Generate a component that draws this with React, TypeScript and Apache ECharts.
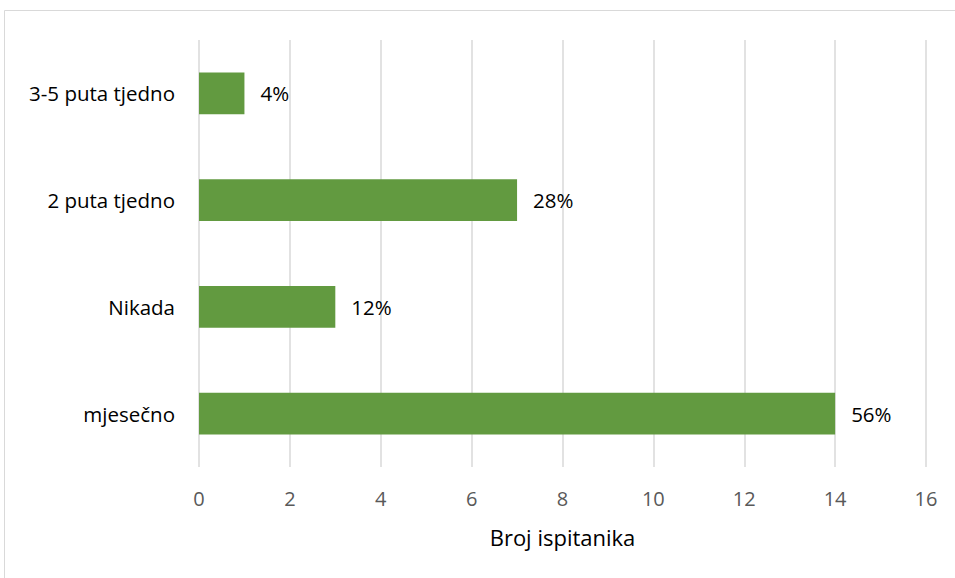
import React, { useEffect, useRef } from "react";
import * as echarts from "echarts";

const categories = ["mjesečno", "Nikada", "2 puta tjedno", "3-5 puta tjedno"];
const counts = [14, 3, 7, 1];
const percentLabels = ["56%", "12%", "28%", "4%"];
const xTicksMin = 0;
const xTicksMax = 16;
const xTickStep = 2;
const xAxisTitle = "Broj ispitanika";

const FONT = "'Open Sans', sans-serif";

export default function App() {
  const ref = useRef<HTMLDivElement>(null);
  useEffect(() => {
    if (!ref.current) return;
    const chart = echarts.init(ref.current, undefined, { renderer: "svg" });
    chart.setOption({
      animation: false,
      backgroundColor: "#ffffff",
      textStyle: { fontFamily: FONT },
      graphic: [
        {
          type: "rect",
          shape: { x: 4.5, y: 10.5, width: 1200, height: 1000 },
          style: { fill: "none", stroke: "#d9d9d9", lineWidth: 1 },
          silent: true,
          z: -1,
        },
      ],
      grid: { left: 199, right: 29, top: 40, bottom: 111, containLabel: false },
      xAxis: {
        type: "value",
        min: xTicksMin,
        max: xTicksMax,
        interval: xTickStep,
        name: xAxisTitle,
        nameLocation: "middle",
        nameGap: 59,
        nameTextStyle: { fontFamily: FONT, fontSize: 22, color: "#000000" },
        axisLine: { show: false },
        axisTick: { show: false },
        axisLabel: { fontFamily: FONT, fontSize: 20, color: "#595959", margin: 21 },
        splitLine: { show: true, lineStyle: { color: "#d9d9d9", width: 1.5 } },
      },
      yAxis: {
        type: "category",
        data: categories,
        axisLine: { show: false },
        axisTick: { show: false },
        axisLabel: { fontFamily: FONT, fontSize: 20.5, color: "#000000", margin: 24 },
        splitLine: { show: false },
      },
      series: [
        {
          type: "bar",
          data: counts.map((v, i) => ({ value: v, label: { formatter: percentLabels[i] } })),
          barCategoryGap: "61%",
          itemStyle: { color: "#629a40" },
          label: {
            show: true,
            position: "right",
            distance: 16,
            fontFamily: FONT,
            fontSize: 20.5,
            color: "#000000",
          },
        },
      ],
    });
    return () => chart.dispose();
  }, []);
  return <div ref={ref} style={{ width: 955, height: 578, position: "absolute", left: 0, top: 0 }} />;
}
